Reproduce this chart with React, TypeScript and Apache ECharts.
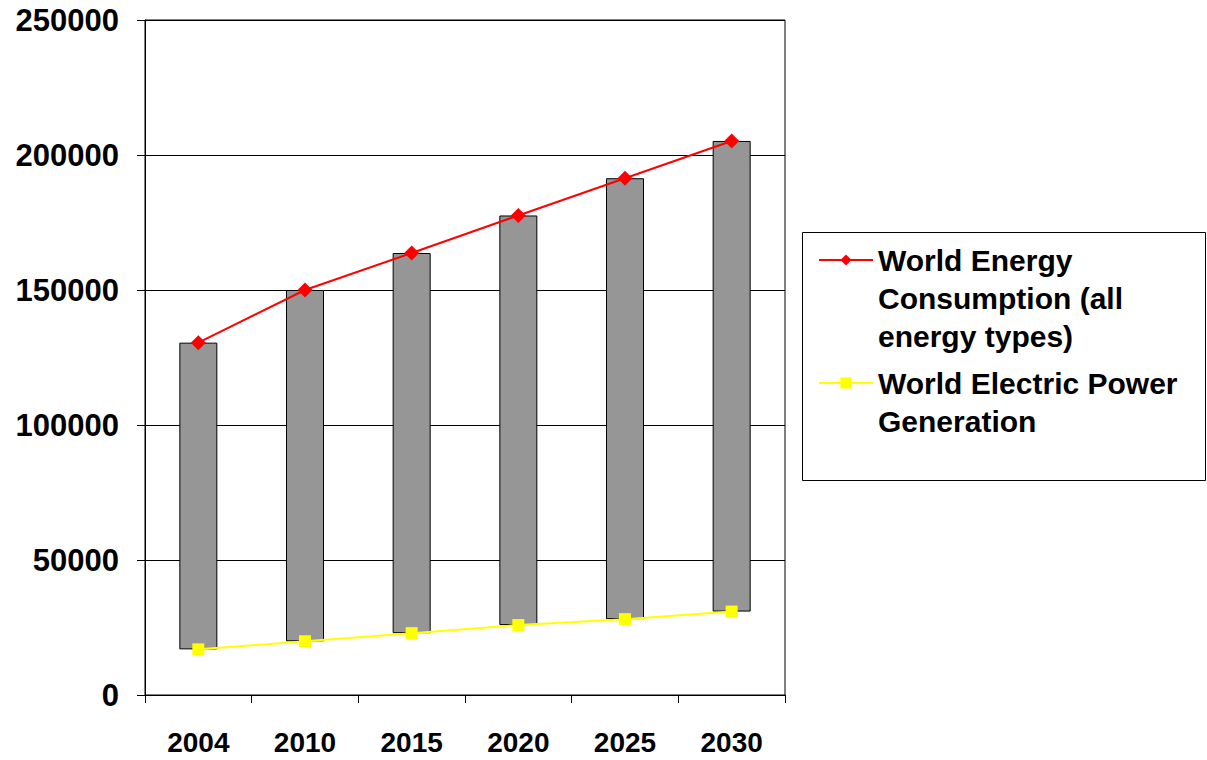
import React, { useEffect, useRef } from "react";
import * as echarts from "echarts";

const years = ["2004", "2010", "2015", "2020", "2025", "2030"];
const energyConsumption = [130500, 150000, 163700, 177600, 191400, 205200];
const electricGeneration = [16900, 19900, 22900, 25900, 28100, 30900];
const yTicks = { min: 0, max: 250000, interval: 50000 };

const nameEnergy = "World Energy Consumption (all energy types)";
const nameElectric = "World Electric Power Generation";
// leading blank lines keep the legend icon level with the first text line
const legendLabels: Record<string, string> = {
  [nameEnergy]: "\n\nWorld Energy\nConsumption (all\nenergy types)",
  [nameElectric]: "\nWorld Electric Power\nGeneration",
};

const FONT = "'Liberation Sans', Arial, sans-serif";

export default function App() {
  const ref = useRef<HTMLDivElement>(null);
  useEffect(() => {
    if (!ref.current) return;
    const chart = echarts.init(ref.current, undefined, { renderer: "svg" });
    const rangeValues = energyConsumption.map((v, i) => v - electricGeneration[i]);
    const L = 38;
    const legendText = {
      fontSize: 30,
      fontWeight: "bold" as const,
      fontFamily: FONT,
      color: "#000",
      lineHeight: L,
    };
    chart.setOption({
      animation: false,
      backgroundColor: "#fff",
      grid: {
        left: 145,
        top: 20,
        width: 640,
        height: 675,
        show: true,
        borderColor: "#000",
        borderWidth: 1,
        containLabel: false,
      },
      xAxis: {
        type: "category",
        data: years,
        boundaryGap: true,
        axisLine: { lineStyle: { color: "#000", width: 1 } },
        axisTick: { show: true, length: 8, lineStyle: { color: "#000" } },
        axisLabel: {
          color: "#000",
          fontSize: 28,
          fontWeight: "bold",
          fontFamily: FONT,
          margin: 33,
        },
      },
      yAxis: {
        type: "value",
        min: yTicks.min,
        max: yTicks.max,
        interval: yTicks.interval,
        axisLine: { show: true, lineStyle: { color: "#000", width: 1 } },
        axisTick: { show: true, length: 8, lineStyle: { color: "#000" } },
        splitLine: { show: true, lineStyle: { color: "#000", width: 1 } },
        axisLabel: {
          color: "#000",
          fontSize: 31,
          fontWeight: "bold",
          fontFamily: FONT,
          margin: 26,
          formatter: (v: number) => String(v),
        },
      },
      legend: [
        {
          data: [nameEnergy],
          orient: "vertical",
          left: 818,
          top: 165,
          padding: 0,
          itemGap: 0,
          itemWidth: 54,
          itemHeight: 14,
          formatter: (n: string) => legendLabels[n] || n,
          textStyle: legendText,
          selectedMode: false,
        },
        {
          data: [nameElectric],
          orient: "vertical",
          left: 818,
          top: 326,
          padding: 0,
          itemGap: 0,
          itemWidth: 54,
          itemHeight: 14,
          formatter: (n: string) => legendLabels[n] || n,
          textStyle: legendText,
          selectedMode: false,
        },
      ],
      graphic: [
        {
          type: "rect",
          shape: { x: 802.5, y: 232.5, width: 403, height: 248 },
          style: { fill: "none", stroke: "#000", lineWidth: 1 },
          z: 0,
        },
      ],
      series: [
        {
          name: "base",
          type: "bar",
          stack: "hl",
          data: electricGeneration,
          barWidth: 38,
          itemStyle: { color: "transparent", borderWidth: 0 },
          silent: true,
        },
        {
          name: "range",
          type: "bar",
          stack: "hl",
          data: rangeValues,
          barWidth: 38,
          itemStyle: { color: "#969696", borderColor: "#000", borderWidth: 1 },
          silent: true,
        },
        {
          name: nameEnergy,
          type: "line",
          data: energyConsumption,
          symbol: "diamond",
          symbolSize: 15,
          lineStyle: { color: "#ff0000", width: 2 },
          itemStyle: { color: "#ff0000" },
          z: 5,
        },
        {
          name: nameElectric,
          type: "line",
          data: electricGeneration,
          symbol: "rect",
          symbolSize: 12,
          lineStyle: { color: "#ffff00", width: 2 },
          itemStyle: { color: "#ffff00" },
          z: 5,
        },
      ],
    });
    return () => chart.dispose();
  }, []);
  return (
    <div
      ref={ref}
      style={{ position: "absolute", left: 0, top: 0, width: 1207, height: 760 }}
    />
  );
}
